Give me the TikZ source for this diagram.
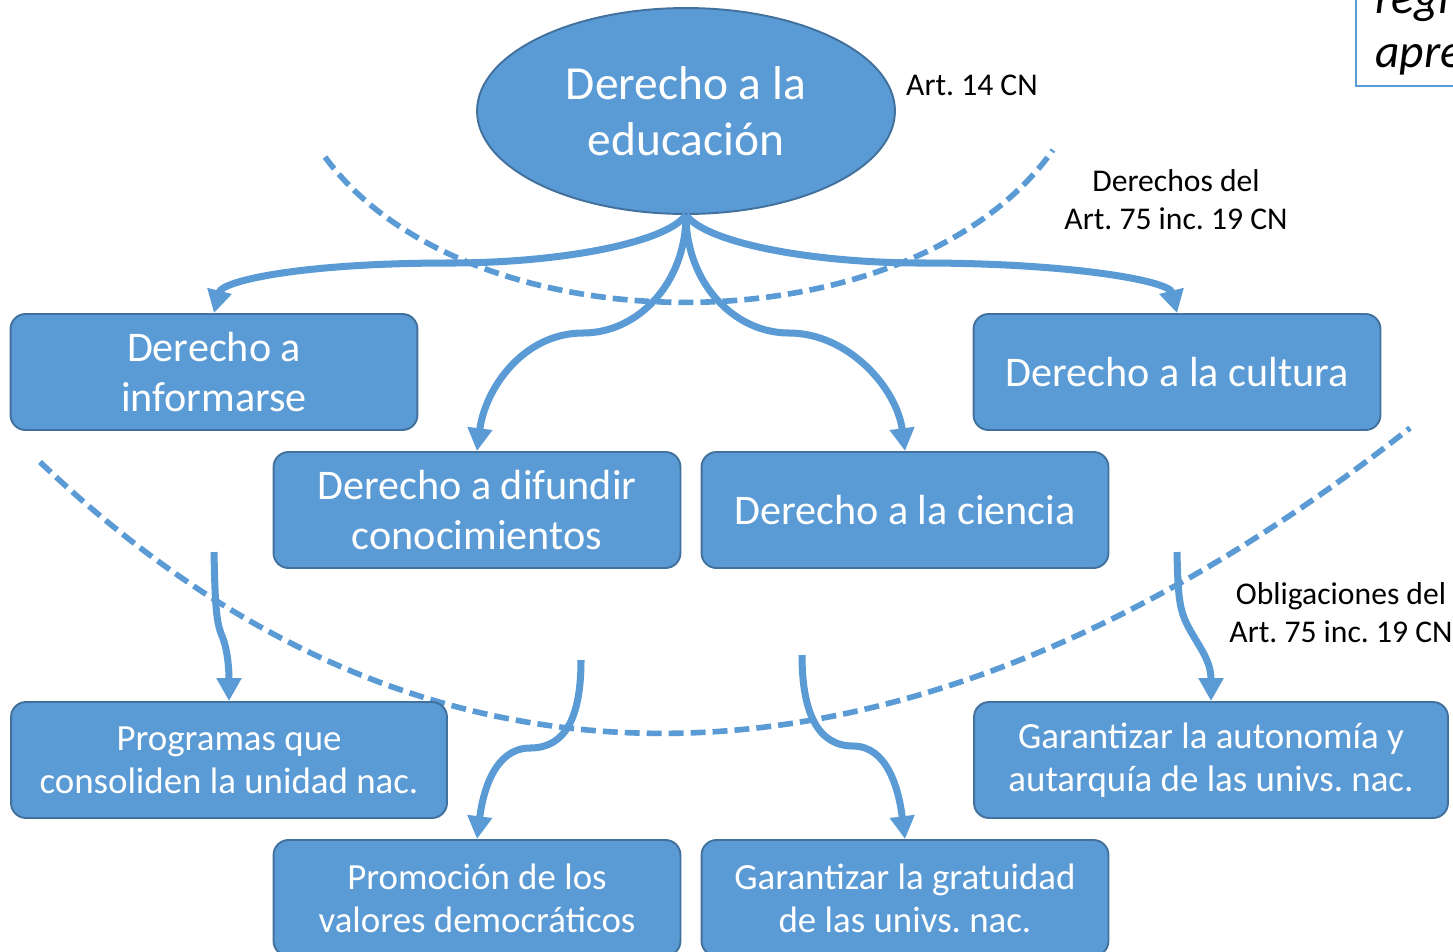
\documentclass[tikz,border=0pt]{standalone}
\usepackage{fontspec}
\setmainfont{Carlito}
\usetikzlibrary{shapes.geometric,arrows.meta}
\definecolor{azul}{HTML}{5B9BD5}
\definecolor{borde}{HTML}{41719C}
\frenchspacing
\begin{document}
\begin{tikzpicture}[x=0.02cm,y=-0.02cm,
    caja/.style={draw=borde,line width=1.1pt,fill=azul,rounded corners=0.3cm,text=white,align=center,minimum height=2.32cm,inner sep=2pt},
    grande/.style={caja,minimum width=8.14cm,font=\fontsize{24}{28.5}\selectfont},
    chica/.style={caja,font=\fontsize{21}{24.5}\selectfont},
    flecha/.style={azul,line width=4pt,-{Triangle[width=13.5pt,length=13pt]}},
    limite/.style={azul,line width=3.2pt,dash pattern=on 8.5pt off 4pt},
    rotulo/.style={font=\fontsize{18}{21.5}\selectfont,align=center}]
  \useasboundingbox (0,0) rectangle (1453,951);
  \clip (0,0) rectangle (1453,951);
  \draw[limite] (325,157) .. controls (468,352) and (910,352) .. (1053,150);
  \draw[limite] (40,462) .. controls (470,872) and (960,782) .. (1410,428);
  \node[ellipse,draw=borde,line width=1.1pt,fill=azul,text=white,minimum width=8.36cm,minimum height=4.12cm,inner sep=0pt,align=center,font=\fontsize{27}{32}\selectfont] (edu) at (686,111) {Derecho a la\\educación};
  \node[grande] (inf) at (214,372) {Derecho a\\informarse};
  \node[grande] (dif) at (477,510) {Derecho a difundir\\conocimientos};
  \node[grande] (cie) at (905,510) {Derecho a la ciencia};
  \node[grande] (cul) at (1177,372) {Derecho a la cultura};
  \node[chica,minimum width=8.72cm] (pro) at (229,760) {Programas que\\consoliden la unidad nac.};
  \node[chica,minimum width=8.14cm] (val) at (477,898) {Promoción de los\\valores democráticos};
  \node[chica,minimum width=8.14cm] (gra) at (905,898) {Garantizar la gratuidad\\de las univs. nac.};
  \node[chica,minimum width=9.48cm] (aut) at (1211,760) {Garantizar la autonomía y\\autarquía de las univs. nac.};
  \draw[flecha] (edu.south) .. controls +(-20,28) and +(110,0) .. (450,263) .. controls +(-150,0) and +(8,-32) .. (inf.north);
  \draw[flecha] (edu.south) .. controls +(0,68) and +(55,0) .. (583,333) .. controls +(-60,0) and +(8,-62) .. (dif.north);
  \draw[flecha] (edu.south) .. controls +(0,68) and +(-55,0) .. (789,333) .. controls +(60,0) and +(-8,-62) .. (cie.north);
  \draw[flecha] (edu.south) .. controls +(20,28) and +(-110,0) .. (922,263) .. controls +(150,0) and +(-8,-32) .. (cul.north);
  \coordinate (a1) at (214,552);
  \coordinate (a2) at (581,660);
  \coordinate (a3) at (802,655);
  \coordinate (a4) at (1177,552);
  \draw[flecha] (a1) .. controls +(1,50) and +(-6,-14) .. (222,636) .. controls +(6,14) and +(0,-30) .. (pro.north);
  \draw[flecha] (a2) .. controls +(0,58) and +(35,0) .. (530,748) .. controls +(-35,0) and +(6,-48) .. (val.north);
  \draw[flecha] (a3) .. controls +(0,58) and +(-35,0) .. (853,746) .. controls +(35,0) and +(-6,-48) .. (gra.north);
  \draw[flecha] (a4) .. controls +(1,50) and +(-10,-18) .. (1190,630) .. controls +(10,18) and +(0,-40) .. (aut.north);
  \node[rotulo,anchor=west] (art14) at (900,85) {Art. 14 CN};
  \node[rotulo] (der) at (1176,200) {Derechos del\\Art. 75 inc. 19 CN};
  \node[rotulo] (obl) at (1341,613) {Obligaciones del\\Art. 75 inc. 19 CN};
  \node[draw=azul,line width=1.2pt,fill=white,anchor=south west,text width=3cm,align=left,inner xsep=11pt,inner ysep=6pt,font=\fontsize{27}{31}\selectfont\itshape] (nota) at (1355,87) {regi\\apre};
\end{tikzpicture}
\end{document}
